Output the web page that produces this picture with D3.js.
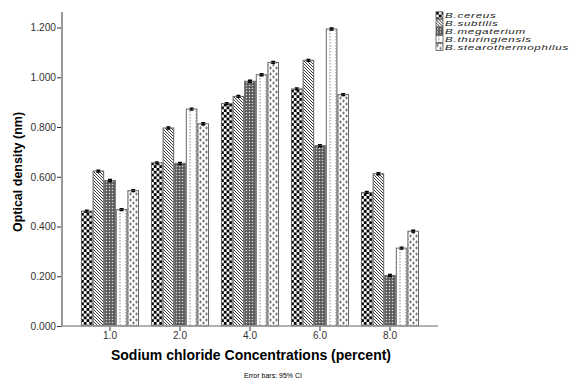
<!DOCTYPE html>
<html>
<head>
<meta charset="utf-8">
<script src="https://cdn.jsdelivr.net/npm/d3@7"></script>
<style>
  body { margin: 0; background: #fff; }
  text { font-family: Arial, "Liberation Sans", sans-serif; }
</style>
</head>
<body>
<svg id="chart" width="570" height="380"></svg>
<script>
const concentrations = ["1.0", "2.0", "4.0", "6.0", "8.0"];
const species = ["B.cereus", "B.subtilis", "B.megaterium", "B.thuringiensis", "B.stearothermophilus"];
const cereus = [0.462, 0.656, 0.894, 0.953, 0.537];
const subtilis = [0.623, 0.796, 0.923, 1.068, 0.612];
const megaterium = [0.585, 0.654, 0.984, 0.725, 0.203];
const thuringiensis = [0.468, 0.872, 1.010, 1.194, 0.313];
const stearo = [0.544, 0.813, 1.060, 0.930, 0.381];
const errors = [0.004, 0.004, 0.004, 0.004, 0.004];
const yTicks = [0, 0.2, 0.4, 0.6, 0.8, 1.0, 1.2];

const seriesValues = [cereus, subtilis, megaterium, thuringiensis, stearo];
const svg = d3.select("#chart");

const x0 = d3.scaleBand()
    .domain(concentrations)
    .range([62, 438])
    .paddingInner(0.171)
    .paddingOuter(0.271);

const x1 = d3.scaleBand()
    .domain(species)
    .range([0, x0.bandwidth()]);

const y = d3.scaleLinear()
    .domain([0, 1.2])
    .range([326, 27.5]);

// fill patterns, one per species
const defs = svg.append("defs");

function addPattern(id, w, h, draw) {
    const p = defs.append("pattern")
        .attr("id", id)
        .attr("patternUnits", "userSpaceOnUse")
        .attr("width", w)
        .attr("height", h);
    p.append("rect").attr("width", w).attr("height", h).attr("fill", "#fff");
    draw(p);
}

addPattern("p0", 5.6, 5.6, p => {
    p.append("rect").attr("width", 2.8).attr("height", 2.8).attr("fill", "#000");
    p.append("rect").attr("x", 2.8).attr("y", 2.8).attr("width", 2.8).attr("height", 2.8).attr("fill", "#000");
});
addPattern("p1", 3, 3, p => {
    p.append("path").attr("d", "M-1,-1L4,4M-1,2L1,4M2,-1L4,1")
        .attr("stroke", "#222").attr("stroke-width", 0.9);
});
addPattern("p2", 3, 3, p => {
    p.append("rect").attr("width", 3).attr("height", 3).attr("fill", "#555");
    p.append("rect").attr("x", 0.8).attr("y", 0.8).attr("width", 1.4).attr("height", 1.4).attr("fill", "#ddd");
});
addPattern("p3", 6, 3, p => {
    p.append("rect").attr("x", 2.5).attr("y", 0).attr("width", 1).attr("height", 1.5).attr("fill", "#888");
});
addPattern("p4", 6, 6, p => {
    p.append("path").attr("d", "M1.5,0.5V3.5M0,2H3M4.5,3.5V6.5M3,5H6M4.5,-2.5V0.5")
        .attr("stroke", "#777").attr("stroke-width", 1);
});

// bars
const groups = svg.append("g").selectAll("g")
    .data(concentrations)
    .join("g")
    .attr("transform", d => `translate(${x0(d)},0)`);

groups.selectAll("rect")
    .data((d, i) => species.map((s, j) => ({ s, j, v: seriesValues[j][i] })))
    .join("rect")
    .attr("x", d => x1(d.s) + 0.5)
    .attr("y", d => y(d.v))
    .attr("width", x1.bandwidth() - 1)
    .attr("height", d => y(0) - y(d.v))
    .attr("fill", d => `url(#p${d.j})`)
    .attr("stroke", "#666")
    .attr("stroke-width", 1);

// error bars
groups.selectAll("path.err")
    .data((d, i) => species.map((s, j) => ({ s, v: seriesValues[j][i], e: errors[i] })))
    .join("path")
    .attr("class", "err")
    .attr("d", d => {
        const cx = x1(d.s) + x1.bandwidth() / 2;
        const t = y(d.v + d.e), b = y(d.v - d.e);
        return `M${cx - 2},${t}H${cx + 2}M${cx},${t}V${b}M${cx - 2},${b}H${cx + 2}`;
    })
    .attr("stroke", "#000")
    .attr("stroke-width", 1.3)
    .attr("fill", "none");

// axes
const yAxis = svg.append("g")
    .attr("transform", "translate(62,0)")
    .call(d3.axisLeft(y).tickValues(yTicks).tickFormat(d3.format(".3f")).tickSize(5).tickSizeOuter(0));
yAxis.select(".domain").remove();
yAxis.selectAll("line").attr("stroke", "#333");
yAxis.selectAll("text").attr("font-size", 10.2).attr("fill", "#333").attr("x", -6);

const xAxis = svg.append("g")
    .attr("transform", `translate(0,${y(0)})`)
    .call(d3.axisBottom(x0).tickSize(5).tickSizeOuter(0));
xAxis.select(".domain").remove();
xAxis.selectAll("line").attr("stroke", "#333");
xAxis.selectAll("text").attr("font-size", 10).attr("fill", "#333").attr("y", 13).attr("dy", null);

svg.append("line")
    .attr("x1", 62).attr("x2", 62)
    .attr("y1", 12).attr("y2", y(0))
    .attr("stroke", "#999").attr("stroke-width", 2);
svg.append("line")
    .attr("x1", 61).attr("x2", 438)
    .attr("y1", y(0)).attr("y2", y(0))
    .attr("stroke", "#999").attr("stroke-width", 1.5);

// labels
svg.append("text")
    .attr("transform", "translate(22,172) rotate(-90)")
    .attr("text-anchor", "middle")
    .attr("font-size", 12.5)
    .attr("font-weight", "bold")
    .text("Optical density (nm)");

svg.append("text")
    .attr("x", 251).attr("y", 360)
    .attr("text-anchor", "middle")
    .attr("font-size", 14)
    .attr("font-weight", "bold")
    .text("Sodium chloride Concentrations (percent)");

svg.append("text")
    .attr("x", 273).attr("y", 378)
    .attr("text-anchor", "middle")
    .attr("font-size", 7)
    .text("Error bars: 95% CI");

// legend
const legend = svg.append("g").selectAll("g")
    .data(species)
    .join("g")
    .attr("transform", (d, i) => `translate(436,${11.8 + i * 7.9})`);

legend.append("rect")
    .attr("width", 7).attr("height", 7)
    .attr("fill", (d, i) => `url(#p${i})`)
    .attr("stroke", "#555").attr("stroke-width", 0.8);

legend.append("text")
    .attr("transform", "translate(9,6.6) scale(1.45,0.9)")
    .attr("font-size", 8)
    .attr("letter-spacing", 0.5)
    .attr("font-style", "italic")
    .attr("fill", "#222")
    .text(d => d);
</script>
</body>
</html>
